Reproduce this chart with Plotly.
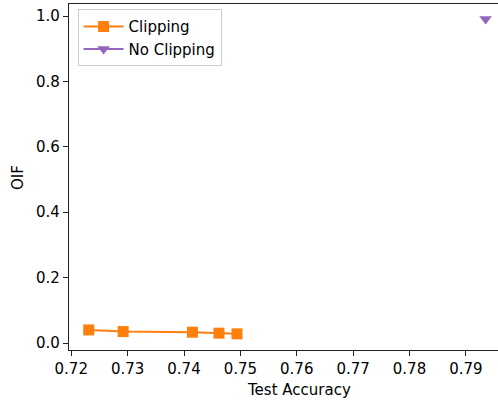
import plotly.graph_objects as go

# Accuracy vs OIF for runs with and without gradient clipping
clip_acc = [0.7231, 0.7292, 0.7415, 0.7462, 0.7494]
clip_oif = [0.040, 0.035, 0.033, 0.030, 0.028]
noclip_acc = [0.7935]
noclip_oif = [0.991]

x_ticks = [0.72, 0.73, 0.74, 0.75, 0.76, 0.77, 0.78, 0.79]
y_ticks = [0.0, 0.2, 0.4, 0.6, 0.8, 1.0]

font = dict(family="DejaVu Sans", size=15, color="black")

fig = go.Figure()
fig.add_trace(go.Scatter(
    x=clip_acc, y=clip_oif, mode="lines+markers", name="Clipping",
    line=dict(color="#ff7f0e", width=2),
    marker=dict(symbol="square", size=11, color="#ff7f0e"),
))
fig.add_trace(go.Scatter(
    x=noclip_acc, y=noclip_oif, mode="lines+markers", name="No Clipping",
    line=dict(color="#9467bd", width=2),
    marker=dict(symbol="triangle-down", size=11, color="#9467bd"),
))

fig.update_layout(
    width=498, height=401,
    margin=dict(l=69, r=0, t=4, b=51),
    plot_bgcolor="white", paper_bgcolor="white",
    font=font,
    showlegend=True,
    legend=dict(
        x=0.02, y=0.985, xanchor="left", yanchor="top",
        bgcolor="rgba(255,255,255,0.8)", bordercolor="#cccccc", borderwidth=1,
        font=font, tracegroupgap=0, itemwidth=40,
    ),
    annotations=[
        dict(text="Test Accuracy", xref="paper", yref="paper",
             x=0.536, y=-0.115, xanchor="center", yanchor="middle",
             showarrow=False, font=font),
        dict(text="OIF", xref="paper", yref="paper",
             x=-0.119, y=0.5, xanchor="center", yanchor="middle",
             textangle=-90, showarrow=False, font=font),
    ],
)
fig.update_xaxes(
    range=[0.7196, 0.7957], tickvals=x_ticks,
    ticktext=[f"{v:.2f}" for v in x_ticks],
    showgrid=False, zeroline=False,
    showline=True, linecolor="#222222", linewidth=1.2, mirror=True,
    ticks="outside", ticklen=5, tickwidth=1, tickcolor="#222222",
)
fig.update_yaxes(
    range=[-0.0214, 1.0367], tickvals=y_ticks,
    ticktext=[f"{v:.1f}" for v in y_ticks],
    showgrid=False, zeroline=False,
    showline=True, linecolor="#222222", linewidth=1.2,
    ticks="outside", ticklen=5, tickwidth=1, tickcolor="#222222",
)

fig.write_html("out.html")
